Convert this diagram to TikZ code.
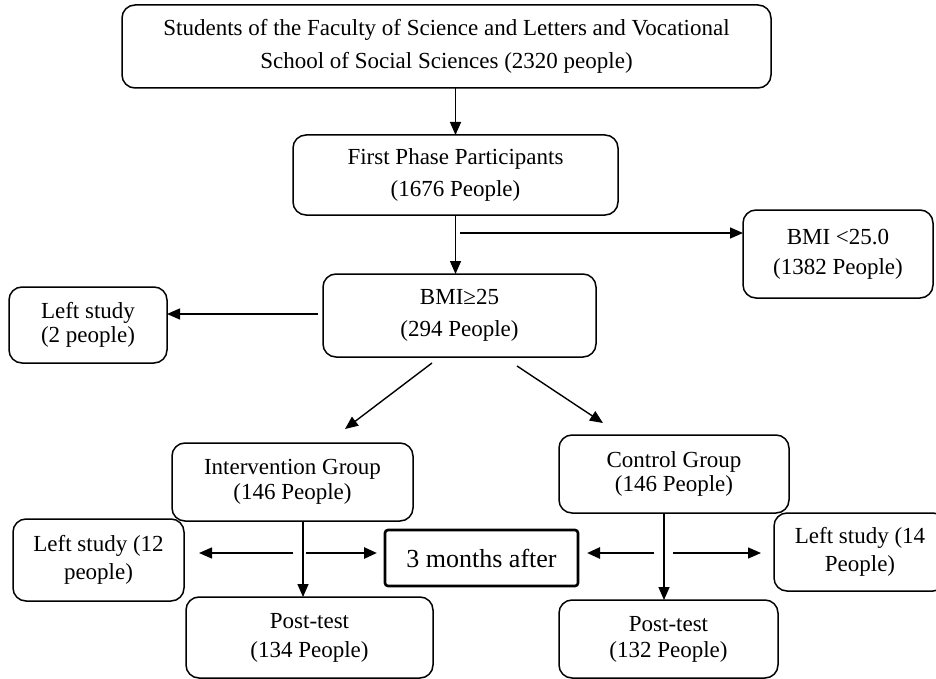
\documentclass[tikz,border=0pt]{standalone}
\usepackage{fontspec}
\setmainfont{Liberation Serif}
\usetikzlibrary{arrows.meta,positioning}

\tikzset{
	box/.style={draw, line width=1.5pt, rounded corners=13pt, align=center, inner sep=0pt, outer sep=0pt},
	txt/.style={font=\fontsize{23}{#1}\selectfont},
	monthsbox/.style={draw, line width=2.6pt, rounded corners=3pt, inner sep=0pt, outer sep=0pt, font=\fontsize{26}{30}\selectfont},
	arr/.style={-{Triangle[length=13pt,width=11pt]}, line width=1.4pt},
	boldarr/.style={arr, line width=2.6pt},
}

\begin{document}
\begin{tikzpicture}[x=1pt, y=-1pt]
		\useasboundingbox (0,0) rectangle (936,679);

		\node [box, txt=33, minimum width=649pt, minimum height=83pt] (students) at (446.5,46.5)
			{Students of the Faculty of Science and Letters and Vocational\\School of Social Sciences (2320 people)};
		\node [box, txt=32, minimum width=325pt, minimum height=80pt, below=47pt of students, xshift=9pt] (first)
			{First Phase Participants\\(1676 People)};
		\node [box, txt=32, minimum width=273pt, minimum height=83pt, below=59pt of first, xshift=4pt] (overw)
			{BMI≥25\\(294 People)};
		\node [box, txt=30, minimum width=190pt, minimum height=88pt] (normw) at (838,254)
			{BMI <25.0\\(1382 People)};
		\node [box, txt=24, minimum width=158pt, minimum height=76pt] (leftA) at (88,325)
			{Left study\\(2 people)};
		\node [box, txt=25, minimum width=241pt, minimum height=78pt] (interv) at (292.5,482)
			{Intervention Group\\(146 People)};
		\node [box, txt=24, minimum width=230pt, minimum height=78pt] (control) at (674,474)
			{Control Group\\(146 People)};
		\node [box, txt=28, minimum width=171pt, minimum height=82pt] (leftB) at (98.5,560)
			{Left study (12\\people)};
		\node [monthsbox, minimum width=193pt, minimum height=56pt] (months) at (481.5,558)
			{3 months after};
		\node [box, txt=28, minimum width=172pt, minimum height=78pt] (leftC) at (860,552)
			{Left study (14\\People)};
		\node [box, txt=29, minimum width=247pt, minimum height=81pt] (postI) at (309.5,637.5)
			{Post-test\\(134 People)};
		\node [box, txt=26, minimum width=219pt, minimum height=78pt] (postC) at (668.5,639)
			{Post-test\\(132 People)};

		\coordinate (split) at (460,233);
		\coordinate (outA) at (318,314);
		\coordinate (diagL) at (432,363);
		\coordinate (diagLend) at (345,429);
		\coordinate (diagR) at (517,366);
		\coordinate (diagRend) at (603,423);
		\coordinate (iL) at (293,553);
		\coordinate (iR) at (306,553);
		\coordinate (cL) at (654,553);
		\coordinate (cR) at (673,553);

		\draw [arr] (students.south -| first.north) -- (first.north);
		\draw [arr] (first.south) -- (first.south |- overw.north);
		\draw [arr] (split) -- (split -| normw.west);
		\draw [arr] (outA) -- (outA -| leftA.east);
		\draw [arr] (diagL) -- (diagLend);
		\draw [arr] (diagR) -- (diagRend);
		\draw [arr] ([xshift=10.5pt]interv.south) -- ([xshift=10.5pt]interv.south |- postI.north);
		\draw [arr] ([xshift=-10pt]control.south) -- ([xshift=-10pt]control.south |- postC.north);
		\draw [arr, shorten >=15pt] (iL) -- (iL -| leftB.east);
		\draw [boldarr, shorten >=8pt] (iR) -- (iR -| months.west);
		\draw [boldarr, shorten >=9pt] (cL) -- (cL -| months.east);
		\draw [arr, shorten >=13pt] (cR) -- (cR -| leftC.west);
\end{tikzpicture}
\end{document}
